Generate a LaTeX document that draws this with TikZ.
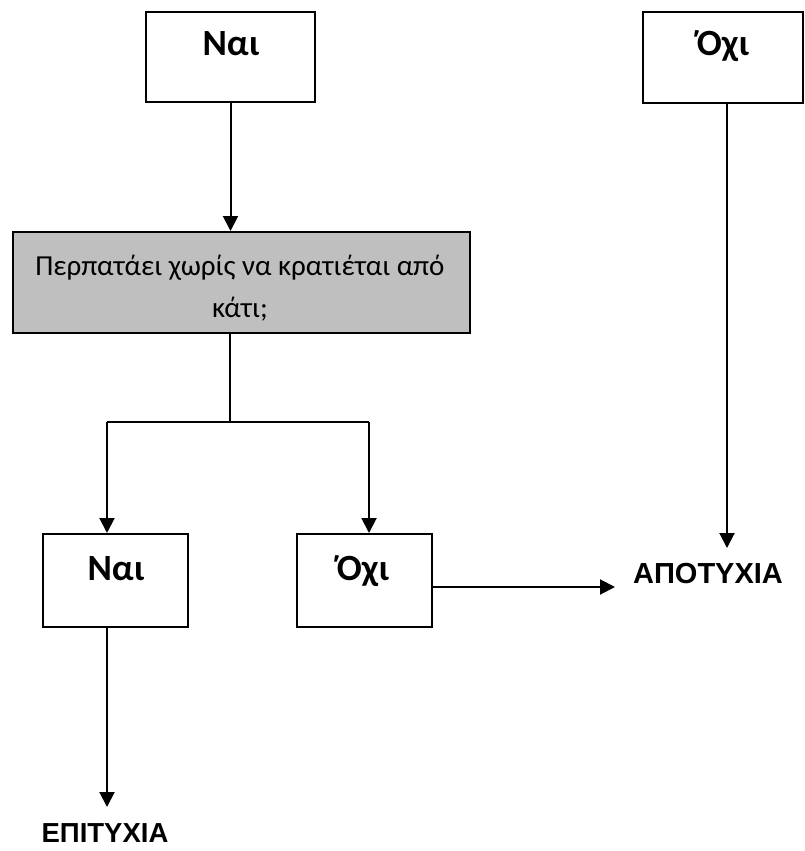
\documentclass[tikz,border=0pt]{standalone}
\usepackage{fontspec}
\setmainfont{Carlito}
\newfontfamily\arialfont{Liberation Sans}
\usetikzlibrary{arrows.meta}
\begin{document}
\begin{tikzpicture}[x=1pt,y=-1pt,
  box/.style={draw=black,line width=2pt,rectangle,inner sep=0pt},
  lbl/.style={font=\fontsize{37}{42}\selectfont\bfseries,anchor=base,inner sep=0pt},
  res/.style={font=\arialfont\fontsize{29}{32}\selectfont\bfseries,anchor=base,inner sep=0pt},
  qtext/.style={font=\fontsize{29}{42}\selectfont,anchor=base,inner sep=0pt},
  conn/.style={line width=2pt},
  arr/.style={line width=2pt,-{Triangle[width=15pt,length=15pt]}}]
\useasboundingbox (0,0) rectangle (804,851);
% boxes
\node[box,minimum width=169pt,minimum height=90pt] (nai1) at (230.5,57) {};
\node[box,minimum width=160pt,minimum height=91pt] (oxi1) at (723,57.5) {};
\node[box,fill=black!25,minimum width=457pt,minimum height=101pt] (q) at (241.5,282.5) {};
\node[box,minimum width=145pt,minimum height=93pt] (nai2) at (115.5,580.5) {};
\node[box,minimum width=135pt,minimum height=93pt] (oxi2) at (364.5,580.5) {};
% texts
\node[lbl] (tnai1) at (231,56) {Ναι};
\node[lbl] (toxi1) at (723,56) {Όχι};
\node[lbl] (tnai2) at (116,580) {Ναι};
\node[lbl] (toxi2) at (363,580) {Όχι};
\node[qtext] (tq1) at (240,275) {Περπατάει χωρίς να κρατιέται από};
\node[qtext] (tq2) at (240,317) {κάτι;};
\node[res] (fail) at (708,583) {ΑΠΟΤΥΧΙΑ};
\node[res,font=\arialfont\fontsize{27.5}{32}\selectfont\bfseries] (succ) at (105,842) {ΕΠΙΤΥΧΙΑ};
% coordinates
\coordinate (br) at (230,422);
\coordinate (brL) at (107,422);
\coordinate (brR) at (369,422);
\coordinate (failtip) at (615,587);
\coordinate (failtop) at (727,548);
\coordinate (succtip) at (107,807);
% connectors
\draw[arr] (nai1.south) -- (q.north -| nai1.south);
\draw[conn] (q.south -| br) -- (br);
\draw[conn] (brL) -- (brR);
\draw[arr] (brL) -- (nai2.north -| brL);
\draw[arr] (brR) -- (oxi2.north -| brR);
\draw[arr] (nai2.south -| succtip) -- (succtip);
\draw[arr] (oxi2.east |- failtip) -- (failtip);
\draw[arr] (oxi1.south -| failtop) -- (failtop);
\end{tikzpicture}
\end{document}
